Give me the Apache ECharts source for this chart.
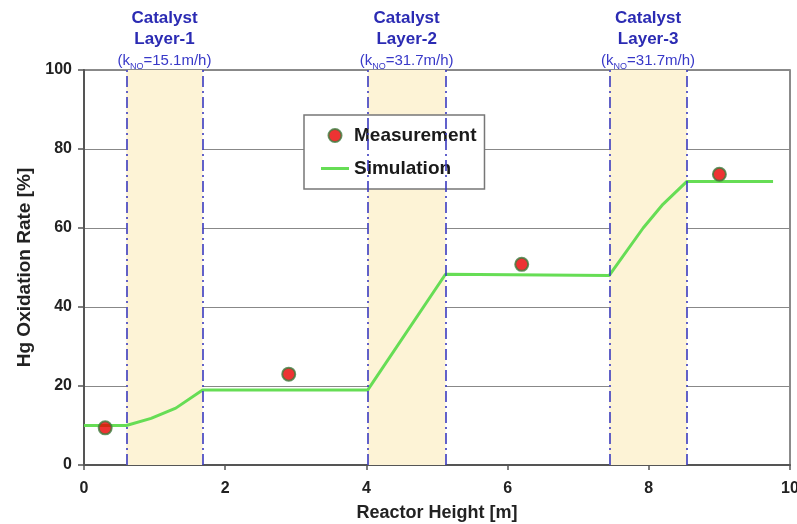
<!DOCTYPE html>
<html>
<head>
<meta charset="utf-8">
<script src="https://cdn.jsdelivr.net/npm/echarts@6/dist/echarts.min.js"></script>
<style>
  html, body { margin: 0; padding: 0; background: #fff; }
  #chart { width: 797px; height: 524px; }
</style>
</head>
<body>
<div id="chart"></div>
<script>
// measured points
const measX = [0.3, 2.9, 6.2, 9.0];
const measY = [9.4, 23.0, 50.8, 73.6];
// simulation curve
const simX = [0, 0.6, 0.95, 1.3, 1.68, 4.02, 5.12, 7.44, 7.92, 8.2, 8.54, 9.76];
const simY = [10, 10, 11.8, 14.4, 19, 19, 48.3, 48, 60, 66, 71.8, 71.8];
// catalyst layers
const layerStart = [0.6, 4.02, 7.44];
const layerEnd = [1.68, 5.12, 8.54];
const layerName = ['Layer-1', 'Layer-2', 'Layer-3'];
const layerK = ['15.1', '31.7', '31.7'];
const xTicks = [0, 2, 4, 6, 8, 10];
const yTicks = [0, 20, 40, 60, 80, 100];

const font = 'Liberation Sans, Arial, sans-serif';

const chart = echarts.init(document.getElementById('chart'));

const areas = layerStart.map((s, i) => [{
  xAxis: s,
  label: {
    show: true,
    position: 'top',
    distance: -1,
    formatter: '{b|Catalyst}\n{b|' + layerName[i] + '}\n{n|(k}{s|NO}{n|=' + layerK[i] + 'm/h)}',
    rich: {
      b: { fontFamily: font, fontWeight: 'bold', fontSize: 17, color: '#2b2bb3', lineHeight: 21, align: 'center' },
      n: { fontFamily: font, fontSize: 15, color: '#3838c8', lineHeight: 21 },
      s: { fontFamily: font, fontSize: 9, color: '#3838c8', lineHeight: 21, verticalAlign: 'bottom', padding: [4, 0, 0, 0] }
    }
  }
}, { xAxis: layerEnd[i] }]);

const lines = [];
layerStart.forEach((s, i) => {
  lines.push({ xAxis: s });
  lines.push({ xAxis: layerEnd[i] });
});

chart.setOption({
  animation: false,
  backgroundColor: '#fff',
  grid: {
    left: 84, top: 70, right: 7, bottom: 59,
    outerBoundsMode: 'none',
    containLabel: false,
    show: true, borderColor: '#666', borderWidth: 1.5
  },
  legend: {
    data: [
      { name: 'Measurement' },
      { name: 'Simulation', icon: 'path://M0 0 H28 V3 H0 Z' }
    ],
    orient: 'vertical',
    left: 304, top: 115,
    padding: [11, 8, 11, 17],
    itemGap: 14,
    itemWidth: 28, itemHeight: 13,
    borderColor: '#777', borderWidth: 1.5,
    backgroundColor: '#fff',
    textStyle: { fontFamily: font, fontWeight: 'bold', fontSize: 19, color: '#1a1a1a' }
  },
  xAxis: {
    type: 'value', min: xTicks[0], max: xTicks[xTicks.length - 1], interval: 2,
    name: 'Reactor Height [m]', nameLocation: 'middle', nameGap: 39,
    nameTextStyle: { fontFamily: font, fontWeight: 'bold', fontSize: 18, color: '#222' },
    axisLine: { lineStyle: { color: '#555', width: 2 } },
    axisTick: { length: 5, lineStyle: { color: '#555', width: 1.5 } },
    axisLabel: { fontFamily: font, fontWeight: 'bold', fontSize: 16, color: '#222', margin: 16 },
    splitLine: { show: false }
  },
  yAxis: {
    type: 'value', min: yTicks[0], max: yTicks[yTicks.length - 1], interval: 20,
    name: 'Hg Oxidation Rate [%]', nameLocation: 'middle', nameGap: 49,
    nameTextStyle: { fontFamily: font, fontWeight: 'bold', fontSize: 19, color: '#222' },
    axisLine: { show: true, lineStyle: { color: '#555', width: 2 } },
    axisTick: { length: 6, lineStyle: { color: '#555', width: 1.5 } },
    axisLabel: { fontFamily: font, fontWeight: 'bold', fontSize: 16, color: '#222', margin: 12 },
    splitLine: { lineStyle: { color: '#888', width: 1 } }
  },
  series: [
    {
      name: 'layers',
      type: 'line',
      data: [],
      z: -1,
      markArea: {
        silent: true,
        itemStyle: { color: '#fdf3d6' },
        data: areas
      }
    },
    {
      name: 'bounds',
      type: 'line',
      data: [],
      z: 3,
      markLine: {
        silent: true,
        symbol: ['none', 'none'],
        label: { show: false },
        lineStyle: { color: '#3b3bc0', width: 1.6, type: [11, 4, 2, 4] },
        data: lines
      }
    },
    {
      name: 'Simulation',
      type: 'line',
      symbol: 'none',
      z: 4,
      lineStyle: { color: '#66dd55', width: 3 },
      itemStyle: { color: '#66dd55' },
      data: simX.map((x, i) => [x, simY[i]])
    },
    {
      name: 'Measurement',
      type: 'scatter',
      symbol: 'circle',
      symbolSize: 13,
      z: 5,
      itemStyle: { color: '#e80000', borderColor: '#3d7a3d', borderWidth: 2 },
      data: measX.map((x, i) => [x, measY[i]])
    }
  ]
});
</script>
</body>
</html>
